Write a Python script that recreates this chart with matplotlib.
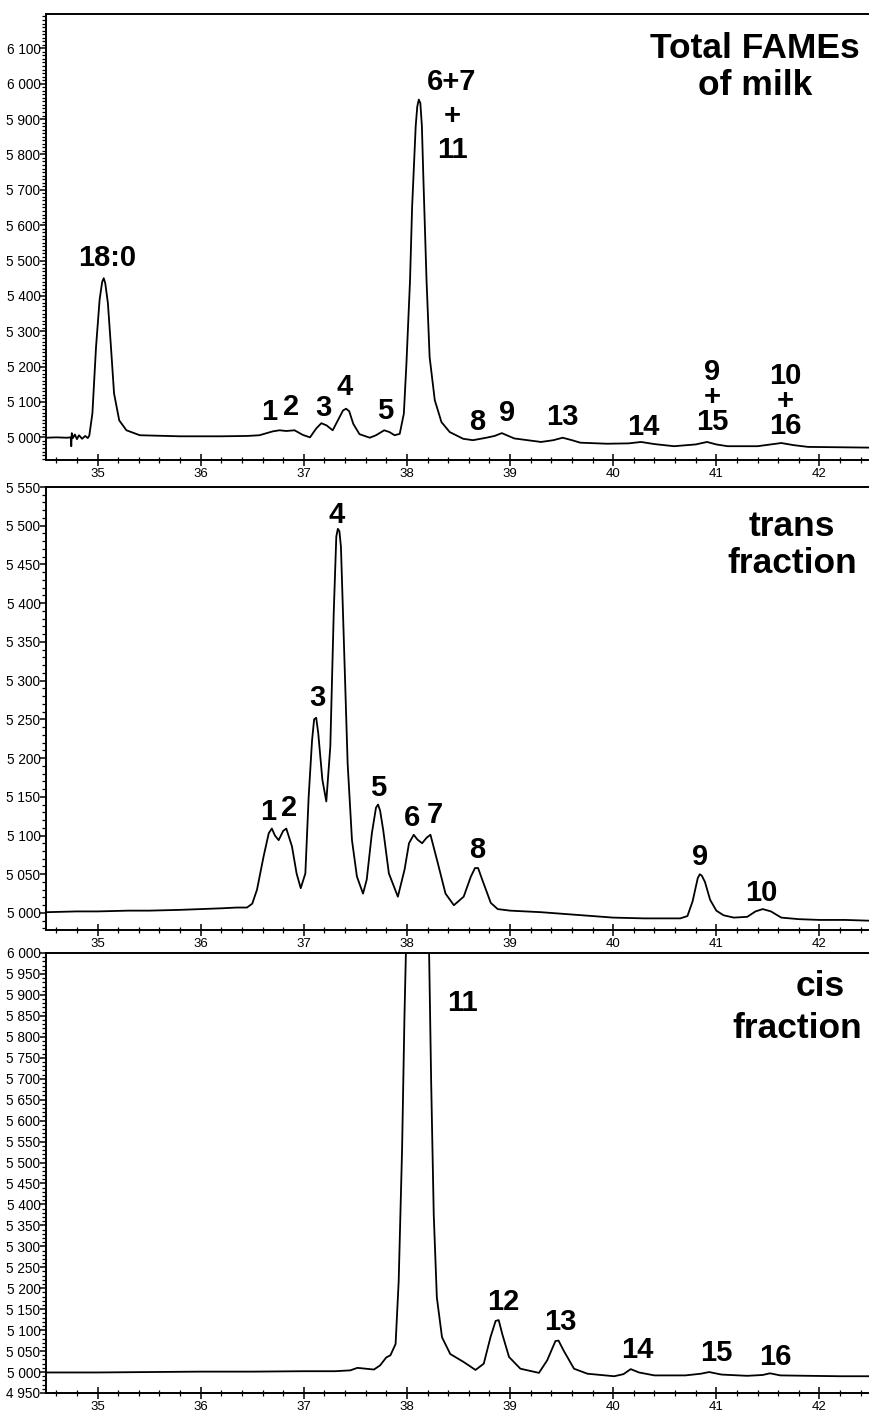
import matplotlib
matplotlib.use("Agg")
import matplotlib.pyplot as plt
from matplotlib.ticker import MultipleLocator, FuncFormatter

# ---------------- data ----------------
# Panel 1: Total FAMEs of milk
t1_x = [34.50, 34.60, 34.70, 34.74, 34.745, 34.75, 34.76, 34.78, 34.80, 34.82, 34.85, 34.88, 34.905,
        34.92, 34.95, 34.985, 35.02, 35.045, 35.06, 35.075, 35.10, 35.13, 35.16, 35.21, 35.28, 35.41,
        35.8, 36.2, 36.45, 36.57, 36.70, 36.765, 36.83, 36.91, 36.99, 37.06, 37.12, 37.17, 37.22,
        37.28, 37.33, 37.38, 37.41, 37.44, 37.48, 37.54, 37.64, 37.70, 37.78, 37.83, 37.88, 37.93,
        37.97, 37.995, 38.03, 38.05, 38.085, 38.10, 38.115, 38.13, 38.145, 38.16, 38.19, 38.22,
        38.27, 38.335, 38.415, 38.545, 38.64, 38.77, 38.85, 38.92, 39.04, 39.30, 39.42, 39.51,
        39.60, 39.68, 39.94, 40.15, 40.27, 40.40, 40.59, 40.80, 40.91, 41.00, 41.11, 41.40, 41.63,
        41.75, 41.89, 42.2, 42.49]
t1_y = [4999, 5000, 4999, 5000, 4975, 5012, 4998, 5008, 4995, 5006, 4996, 5004, 4998,
        5005, 5068, 5255, 5390, 5440, 5450, 5435, 5380, 5255, 5124, 5048, 5020, 5006,
        5003, 5003, 5004, 5006, 5017, 5020, 5018, 5020, 5007, 5000, 5025, 5040, 5034,
        5020, 5048, 5076, 5081, 5074, 5038, 5009, 4999, 5006, 5020, 5015, 5006, 5010,
        5067, 5208, 5444, 5650, 5880, 5935, 5955, 5945, 5880, 5727, 5444, 5227,
        5105, 5043, 5015, 4996, 4992, 4999, 5004, 5012, 4997, 4987, 4992, 4999,
        4992, 4985, 4982, 4983, 4987, 4981, 4975, 4980, 4987, 4980, 4975, 4975, 4984,
        4978, 4973, 4972, 4971]

# Panel 2: trans fraction
t2_x = [34.50, 34.8, 35.0, 35.3, 35.5, 35.8, 36.0, 36.2, 36.35, 36.449, 36.50, 36.546, 36.61, 36.66,
        36.69, 36.72, 36.756, 36.80, 36.83, 36.885, 36.93, 36.97, 37.015, 37.047, 37.08, 37.10,
        37.12, 37.14, 37.18, 37.218, 37.257, 37.29, 37.315, 37.33, 37.345, 37.36, 37.39, 37.425,
        37.467, 37.515, 37.574, 37.61, 37.66, 37.70, 37.72, 37.74, 37.77, 37.825, 37.912, 37.977,
        38.02, 38.066, 38.10, 38.147, 38.19, 38.228, 38.30, 38.374, 38.455, 38.55, 38.62, 38.66,
        38.69, 38.73, 38.813, 38.88, 39.0, 39.3, 39.6, 40.0, 40.3, 40.65, 40.72, 40.77, 40.82,
        40.84, 40.86, 40.89, 40.94, 41.00, 41.07, 41.17, 41.30, 41.38, 41.45, 41.53, 41.63, 41.8,
        42.0, 42.25, 42.49]
t2_y = [5001, 5002, 5002, 5003, 5003, 5004, 5005, 5006, 5007, 5007, 5012, 5030, 5073, 5103,
        5109, 5100, 5094, 5106, 5109, 5086, 5051, 5032, 5051, 5150, 5223, 5250,
        5252, 5232, 5172, 5144, 5215, 5387, 5486, 5496, 5493, 5473, 5344, 5193,
        5094, 5047, 5025, 5043, 5103, 5136, 5140, 5132, 5107, 5051, 5021, 5056,
        5090, 5101, 5095, 5090, 5097, 5101, 5064, 5025, 5010, 5021, 5047, 5058,
        5058, 5043, 5013, 5005, 5003, 5001, 4998, 4994, 4993, 4993, 4996, 5015, 5045,
        5050, 5048, 5040, 5017, 5003, 4997, 4994, 4995, 5002, 5005, 5002, 4994, 4992,
        4991, 4991, 4990]

# Panel 3: cis fraction
t3_x = [34.5, 35.0, 35.5, 36.0, 36.5, 37.0, 37.3, 37.45, 37.52, 37.60, 37.68, 37.74, 37.80, 37.84,
        37.89, 37.92, 37.953, 37.976, 37.99, 38.10, 38.215, 38.235, 38.26, 38.29, 38.34, 38.42,
        38.55, 38.665, 38.745, 38.81, 38.86, 38.89, 38.924, 38.99, 39.10, 39.28, 39.36, 39.44,
        39.47, 39.52, 39.62, 39.75, 40.01, 40.10, 40.17, 40.25, 40.40, 40.70, 40.85, 40.93, 41.05,
        41.30, 41.45, 41.52, 41.62, 41.9, 42.2, 42.49]
t3_y = [4999, 4999, 5000, 5001, 5001, 5002, 5002, 5004, 5010, 5008, 5006, 5016, 5035, 5040,
        5067, 5217, 5533, 5849, 6000, 6400, 6000, 5691, 5375, 5178, 5083, 5043,
        5024, 5005, 5020, 5083, 5122, 5124, 5091, 5036, 5008, 4998, 5028, 5074,
        5075, 5051, 5008, 4996, 4990, 4995, 5007, 4999, 4992, 4992, 4996, 5000, 4994,
        4991, 4993, 4997, 4992, 4991, 4990, 4990]

# ---------------- figure ----------------
W, H = 869, 1412
fig = plt.figure(figsize=(W / 100, H / 100), dpi=100)
plt.rcParams['font.family'] = ['Liberation Sans', 'DejaVu Sans']

def fx(px):
    return px / W

def fy(py):
    return 1 - py / H

# panel boxes in pixels: (top, bottom)
boxes = [(14, 460), (487, 930), (953, 1393)]
ylims = [(4936, 6197), (4978, 5550), (4950, 6000)]
yticks = [list(range(5000, 6101, 100)), list(range(5000, 5551, 50)), list(range(4950, 6001, 50))]
traces = [(t1_x, t1_y), (t2_x, t2_y), (t3_x, t3_y)]

fmt = FuncFormatter(lambda v, p: f"{int(round(v)):,}".replace(",", " "))

for (top, bot), yl, yt, (tx, ty) in zip(boxes, ylims, yticks, traces):
    ax = fig.add_axes([fx(46), fy(bot), fx(W - 46 + 2), (bot - top) / H])
    ax.plot(tx, ty, color='black', lw=1.3, solid_joinstyle='round')
    ax.set_xlim(34.5, 42.5)
    ax.set_ylim(*yl)
    ax.set_yticks(yt)
    ax.yaxis.set_major_formatter(fmt)
    ax.yaxis.set_minor_locator(MultipleLocator(10))
    ax.set_xticks(range(35, 43))
    ax.xaxis.set_minor_locator(MultipleLocator(0.2))
    ax.spines['right'].set_visible(False)
    for s in ['left', 'bottom', 'top']:
        ax.spines[s].set_linewidth(1.4)
    ax.tick_params(axis='y', which='major', direction='out', length=4, width=1.1,
                   labelsize=9.8, pad=0)
    ax.tick_params(axis='y', which='minor', direction='out', length=3, width=0.9)
    ax.tick_params(axis='x', which='major', direction='inout', length=9, width=1.1,
                   labelsize=9.5, pad=1)
    ax.tick_params(axis='x', which='minor', direction='inout', length=5, width=0.9)

bold = dict(fontweight='bold', ha='center', va='center', color='black')
lab = 21
big = 25.5

# panel 1 texts
fig.text(fx(755), fy(67), "Total FAMEs\nof milk", fontsize=big, linespacing=1.15, **bold)
fig.text(fx(107), fy(258), "18:0", fontsize=lab, **bold)
fig.text(fx(452), fy(116), "6+7\n+\n11", fontsize=lab, linespacing=1.25, **bold)
for t, x, y in [("1", 269, 412), ("2", 291, 407), ("3", 323, 408), ("4", 345, 387),
                ("5", 385, 411), ("8", 477, 422), ("9", 507, 413), ("13", 562, 417),
                ("14", 643, 427)]:
    fig.text(fx(x), fy(y), t, fontsize=lab, **bold)
fig.text(fx(712), fy(397), "9\n+\n15", fontsize=lab, linespacing=0.86, **bold)
fig.text(fx(785), fy(401), "10\n+\n16", fontsize=lab, linespacing=0.86, **bold)

# panel 2 texts
fig.text(fx(792), fy(545), "trans\nfraction", fontsize=big, linespacing=1.15, **bold)
for t, x, y in [("1", 268, 812), ("2", 289, 808), ("3", 317, 698), ("4", 337, 515),
                ("5", 378, 788), ("6", 412, 818), ("7", 435, 815), ("8", 477, 850),
                ("9", 700, 857), ("10", 761, 893)]:
    fig.text(fx(x), fy(y), t, fontsize=lab, **bold)

# panel 3 texts
fig.text(fx(820), fy(986), "cis", fontsize=big, **bold)
fig.text(fx(797), fy(1029), "fraction", fontsize=big, **bold)
for t, x, y in [("11", 462, 1003), ("12", 503, 1302), ("13", 560, 1322),
                ("14", 637, 1350), ("15", 716, 1353), ("16", 775, 1357)]:
    fig.text(fx(x), fy(y), t, fontsize=lab, **bold)

fig.savefig("out.png", dpi=100)
